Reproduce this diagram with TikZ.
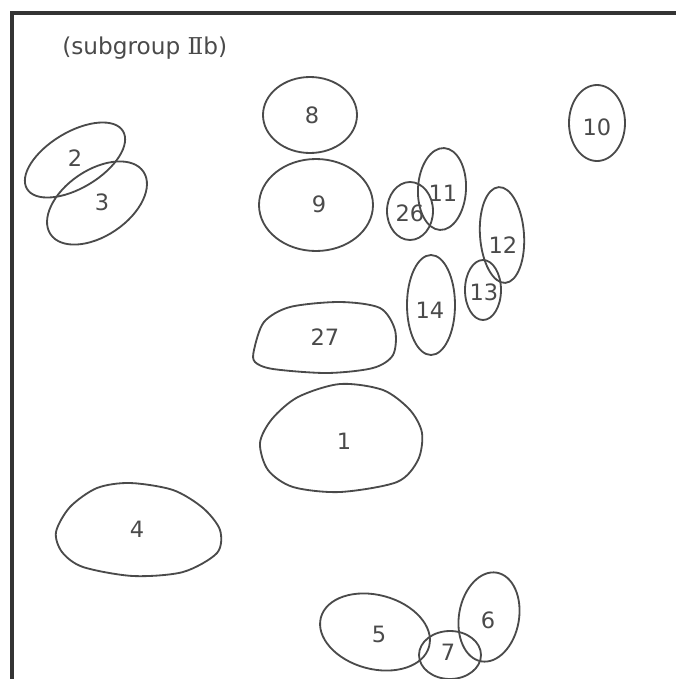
\documentclass[tikz,border=0pt]{standalone}
\usepackage{fontspec}
\setmainfont{DejaVu Sans}
\newfontfamily\numeralfont{DejaVu Serif}
\usepackage{tikz}
\usetikzlibrary{positioning}
\definecolor{inkGray}{HTML}{4A4A4A}

\begin{document}
\begin{tikzpicture}[x=0.025cm, y=-0.025cm,
  font=\fontsize{16}{18}\selectfont,
  spot/.style={draw=inkGray, line width=1.3pt},
  num/.style={text=inkGray, inner sep=0pt},
  frame/.style={draw=inkGray!70!black, line width=2.2pt}
]
\useasboundingbox (0,0) rectangle (676,679);
% frame and heading
\coordinate (fbot) at (12,679);
\coordinate (fcorner) at (12,13);
\coordinate (fright) at (676,13);
\draw[frame] (fbot) -- (fcorner) -- (fright);
\node[num, anchor=west, font=\fontsize{16.5}{18}\selectfont] (title) at (62,48)
  {(subgroup {\numeralfont Ⅱ}b)};

% spots 2 and 3
\draw[spot, shift={(75,160)}, rotate=31] (0,0) ellipse [x radius=56, y radius=28];
\draw[spot, shift={(97,203)}, rotate=34] (0,0) ellipse [x radius=56, y radius=33];
\node[num] (n2) at (75,158) {2};
\node[num] (n3) at (102,202) {3};

% middle column
\draw[spot] (310,115) ellipse [x radius=47, y radius=38];
\node[num] (n8) at (312,115) {8};
\draw[spot] (316,205) ellipse [x radius=57, y radius=46];
\node[num] (n9) at (319,204) {9};
\draw[spot] plot[smooth cycle] coordinates {(254,350) (264,322) (290,307) (340,302)
  (380,308) (395,330) (393,355) (373,368) (327,373) (273,369) (255,362)};
\node[num] (n27) at (325,337) {27};
\draw[spot] plot[smooth cycle] coordinates {(260,443) (272,419) (298,397) (340,384)
  (383,390) (410,410) (422,433) (418,460) (397,482) (340,492) (293,487) (268,470)};
\node[num] (n1) at (344,441) {1};

% spot 4
\draw[spot] plot[smooth cycle] coordinates {(56,532) (70,507) (97,488) (130,483)
  (173,490) (203,508) (220,530) (217,553) (183,572) (133,576) (83,567) (62,552)};
\node[num] (n4) at (137,529) {4};

% right cluster
\draw[spot] (597,123) ellipse [x radius=28, y radius=38];
\node[num] (n10) at (597,127) {10};
\draw[spot] (410,211) ellipse [x radius=23, y radius=29];
\node[num] (n26) at (410,213) {26};
\draw[spot, shift={(442,189)}, rotate=-3] (0,0) ellipse [x radius=24, y radius=41];
\node[num] (n11) at (443,193) {11};
\draw[spot, shift={(502,235)}, rotate=4] (0,0) ellipse [x radius=22, y radius=48];
\node[num] (n12) at (503,245) {12};
\draw[spot] (483,290) ellipse [x radius=18, y radius=30];
\node[num] (n13) at (484,292) {13};
\draw[spot] (431,305) ellipse [x radius=24, y radius=50];
\node[num] (n14) at (430,310) {14};

% bottom group
\draw[spot, shift={(375,632)}, rotate=-15] (0,0) ellipse [x radius=56, y radius=37];
\node[num] (n5) at (379,634) {5};
\draw[spot, shift={(489,617)}, rotate=-10] (0,0) ellipse [x radius=30, y radius=45];
\node[num] (n6) at (488,620) {6};
\draw[spot] (450,655) ellipse [x radius=31, y radius=24];
\node[num] (n7) at (448,652) {7};
\end{tikzpicture}
\end{document}
